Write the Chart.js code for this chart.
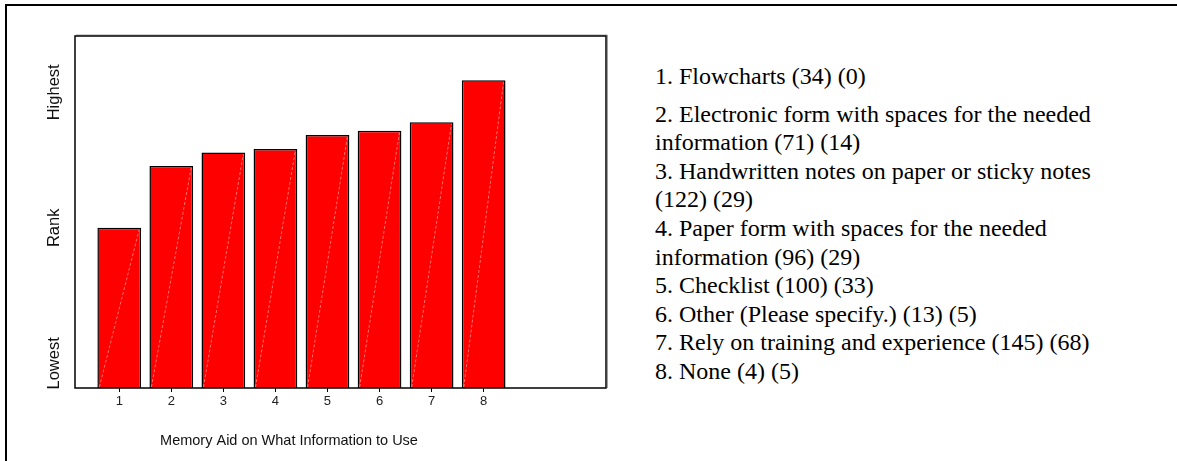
<!DOCTYPE html>
<html>
<head>
<meta charset="utf-8">
<script src="https://cdn.jsdelivr.net/npm/chart.js@4"></script>
<style>
    html, body { margin: 0; padding: 0; background: #fff; overflow: hidden; }
    body { width: 1177px; height: 461px; position: relative; }
    .edge { position: absolute; background: #000; }
    .edge.left { left: 5px; top: 4px; width: 2px; height: 457px; }
    .edge.top { left: 5px; top: 4px; width: 1172px; height: 2px; }
    #rankChart { position: absolute; left: 0; top: 0; }
    .key {
        position: absolute; left: 655px; top: 62px;
        font-family: 'Liberation Serif', 'Times New Roman', serif;
        font-size: 24px; line-height: 28.6px; color: #000;
        white-space: nowrap;
    }
    .key div:first-child { margin-bottom: 9px; }
</style>
</head>
<body>
<div class="edge left"></div>
<div class="edge top"></div>
<canvas id="rankChart" width="620" height="461"></canvas>
<div class="key" id="key"></div>

<script>
// memory aid categories and their rank scores (0 = lowest, 100 = highest)
const categories = [1, 2, 3, 4, 5, 6, 7, 8];
const rankScores = [45.5, 63.1, 66.9, 67.9, 71.9, 73.1, 75.5, 87.4];

// rotated labels along the rank axis
const rankLabels = ['Lowest', 'Rank', 'Highest'];
const rankLabelValues = [7, 45.5, 84];

const aidNames = [
    ['1. Flowcharts (34) (0)'],
    ['2. Electronic form with spaces for the needed', 'information (71) (14)'],
    ['3. Handwritten notes on paper or sticky notes', '(122) (29)'],
    ['4. Paper form with spaces for the needed', 'information (96) (29)'],
    ['5. Checklist (100) (33)'],
    ['6. Other (Please specify.) (13) (5)'],
    ['7. Rely on training and experience (145) (68)'],
    ['8. None (4) (5)']
];

const keyBox = document.getElementById('key');
aidNames.forEach(lines => {
    const item = document.createElement('div');
    item.innerHTML = lines.join('<br>');
    keyBox.appendChild(item);
});

const sansFont = "'Liberation Sans', Arial, sans-serif";

// box around the plot area + the faint diagonal inside each bar
const plotDecor = {
    id: 'plotDecor',
    afterDatasetsDraw(chart) {
        const ctx = chart.ctx;
        const area = chart.chartArea;

        ctx.save();
        ctx.strokeStyle = 'rgba(255, 175, 175, 0.8)';
        ctx.lineWidth = 0.8;
        ctx.setLineDash([3, 2]);
        chart.getDatasetMeta(0).data.forEach(bar => {
            const p = bar.getProps(['x', 'y', 'base', 'width'], true);
            ctx.beginPath();
            ctx.moveTo(p.x - p.width / 2 + 2, p.base - 1);
            ctx.lineTo(p.x + p.width / 2 - 2, p.y + 2);
            ctx.stroke();
        });
        ctx.restore();

        ctx.save();
        ctx.strokeStyle = '#a0a0a0';
        ctx.lineWidth = 1;
        ctx.beginPath();
        ctx.moveTo(area.left + 1, area.top - 1);
        ctx.lineTo(area.right + 1.5, area.top - 1);
        ctx.lineTo(area.right + 1.5, area.bottom);
        ctx.stroke();
        ctx.strokeStyle = '#000';
        ctx.lineWidth = 1.5;
        ctx.strokeRect(area.left, area.top, area.right - area.left, area.bottom - area.top);
        ctx.restore();
    },
    afterDraw(chart) {
        const ctx = chart.ctx;
        const yScale = chart.scales.y;
        ctx.save();
        ctx.fillStyle = '#111';
        ctx.textAlign = 'center';
        ctx.textBaseline = 'middle';

        ctx.font = '16.5px ' + sansFont;
        rankLabels.forEach((txt, i) => {
            ctx.save();
            ctx.translate(54, yScale.getPixelForValue(rankLabelValues[i]));
            ctx.rotate(-Math.PI / 2);
            ctx.fillText(txt, 0, 0);
            ctx.restore();
        });

        ctx.font = '14.5px ' + sansFont;
        ctx.fillText('Memory Aid on What Information to Use', 289, 441);
        ctx.restore();
    }
};

new Chart(document.getElementById('rankChart').getContext('2d'), {
    type: 'bar',
    data: {
        datasets: [{
            data: categories.map((c, i) => ({ x: c, y: rankScores[i] })),
            backgroundColor: '#ff0000',
            borderColor: '#000',
            borderWidth: 1.5,
            barPercentage: 0.84,
            categoryPercentage: 1
        }]
    },
    options: {
        responsive: false,
        animation: false,
        devicePixelRatio: 1,
        layout: { padding: { left: 0, top: 36, right: 14, bottom: 0 } },
        plugins: {
            legend: { display: false },
            tooltip: { enabled: false }
        },
        scales: {
            x: {
                type: 'linear',
                offset: false,
                min: 0.15,
                max: 10.35,
                afterBuildTicks: scale => { scale.ticks = categories.map(v => ({ value: v })); },
                afterFit: scale => { scale.height = 73; },
                grid: { display: true, offset: false, drawOnChartArea: false, drawTicks: true, tickLength: 4, color: '#000', lineWidth: 1 },
                border: { display: false },
                ticks: {
                    padding: 2,
                    color: '#222',
                    font: { size: 13, family: sansFont },
                    callback: v => String(v)
                }
            },
            y: {
                min: 0,
                max: 100,
                afterFit: scale => { scale.width = 75; },
                grid: { display: false },
                border: { display: false },
                ticks: { display: false }
            }
        }
    },
    plugins: [plotDecor]
});
</script>
</body>
</html>
